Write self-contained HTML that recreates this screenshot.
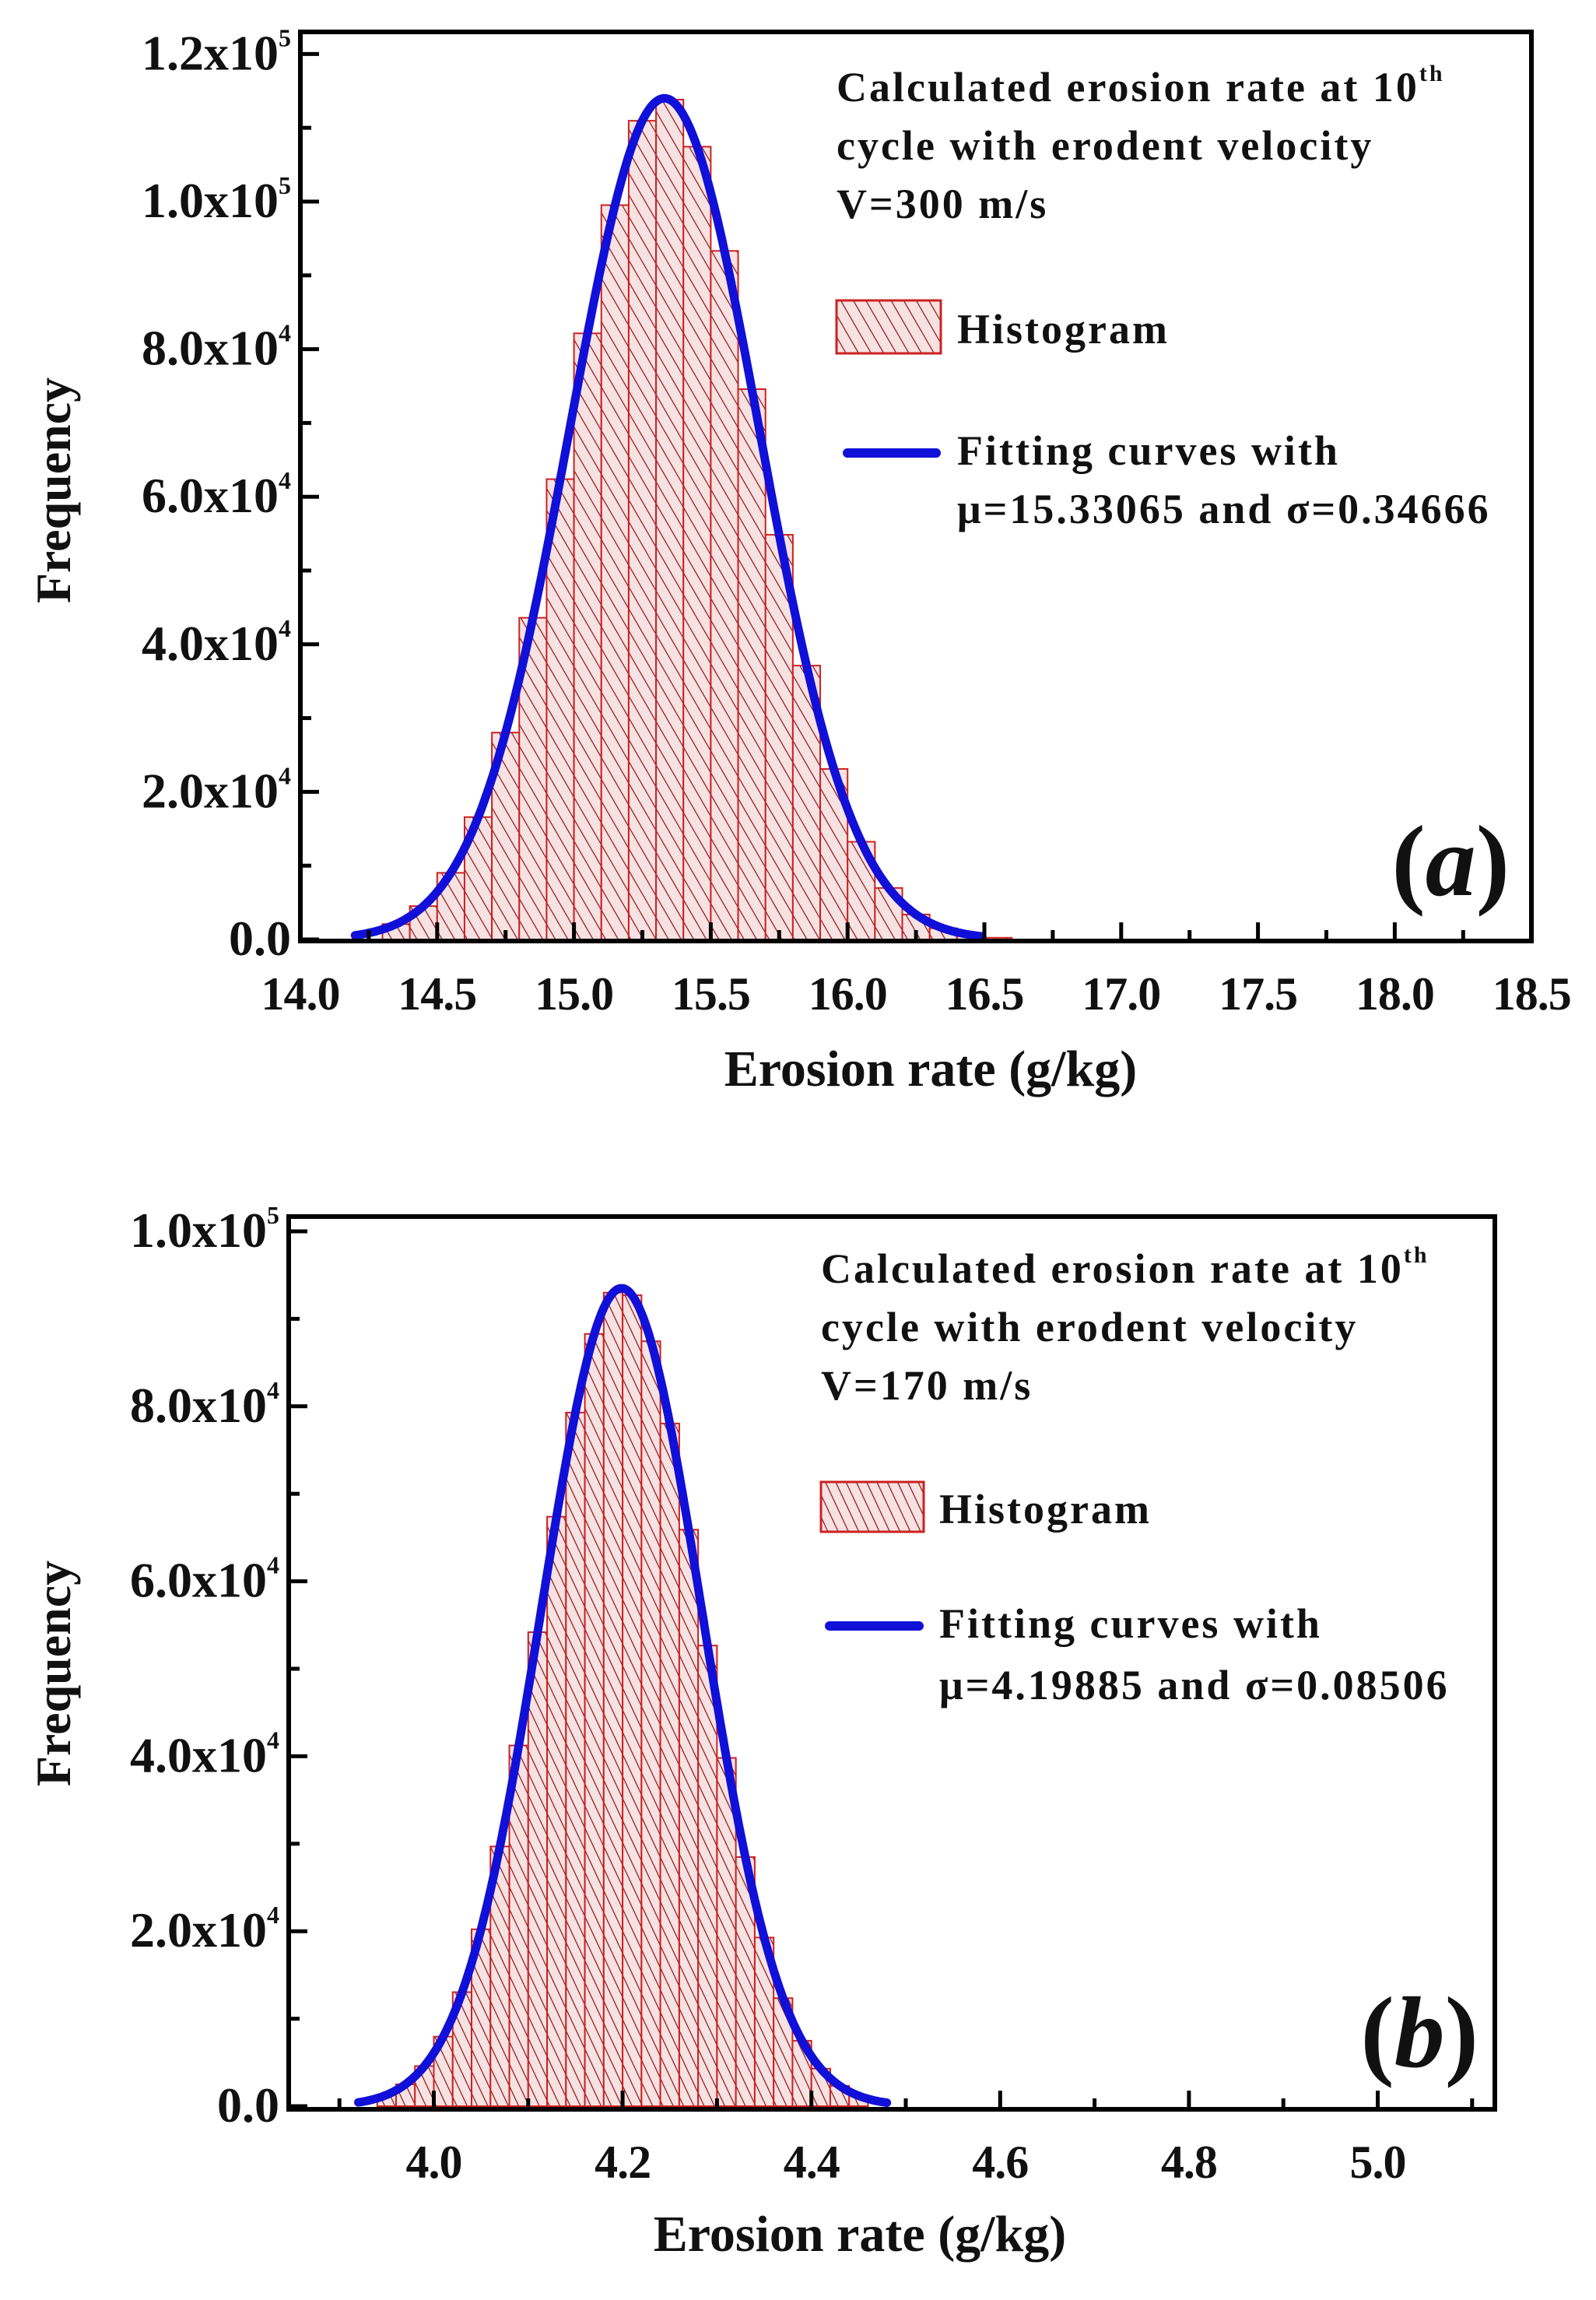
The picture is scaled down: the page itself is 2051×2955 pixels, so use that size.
<!DOCTYPE html>
<html><head><meta charset="utf-8"><style>
html,body{margin:0;padding:0;background:#fff;}
svg{display:block;}
text{font-family:"Liberation Serif",serif;font-weight:bold;fill:#111;}
</style></head><body>
<svg id="s" width="2051" height="2955" xmlns="http://www.w3.org/2000/svg">
<defs>
<pattern id="h1" width="14" height="14" patternUnits="userSpaceOnUse" patternTransform="rotate(-30)">
<rect width="14" height="14" fill="#f6e2e2"/><line x1="0" y1="0" x2="0" y2="14" stroke="#901010" stroke-width="2.4"/></pattern>
<pattern id="h2" width="12" height="12" patternUnits="userSpaceOnUse" patternTransform="rotate(-25)">
<rect width="12" height="12" fill="#f6e2e2"/><line x1="0" y1="0" x2="0" y2="12" stroke="#901010" stroke-width="2.4"/></pattern>
</defs>
<g id="g"></g>
</svg>
<script>
var NS="http://www.w3.org/2000/svg",G=document.getElementById("g");
function el(t,a,txt){var e=document.createElementNS(NS,t);for(var k in a)e.setAttribute(k,a[k]);if(txt!=null)e.textContent=txt;G.appendChild(e);return e;}
function txt(x,y,s,size,anchor,extra){var e=el("text",Object.assign({x:x,y:y,"font-size":size,"text-anchor":anchor||"start"},extra||{}));e.innerHTML=s;return e;}
function plot(P){
 var X=function(v){return P.x0+(v-P.v0)*P.sx;},Y=function(c){return P.y0-c*P.sy;};
 for(var b=P.b0;b<P.b1-1e-9;b+=P.bw){var c=b+P.bw/2;var h=P.peak*Math.exp(-0.5*Math.pow((c-P.mu)/P.sig,2));if(h<200)continue;
  el("rect",{x:X(b),y:Y(h),width:P.bw*P.sx,height:h*P.sy,fill:"url(#"+P.pat+")",stroke:"#c22","stroke-width":2});}
 var d="";for(var v=P.c0;v<=P.c1;v+=(P.c1-P.c0)/300){d+=(d?"L":"M")+X(v).toFixed(1)+","+Y(P.peak*Math.exp(-0.5*Math.pow((v-P.mu)/P.sig,2))).toFixed(1);}
 el("path",{d:d,fill:"none",stroke:"#1010d8","stroke-width":11,"stroke-linecap":"round"});
 el("rect",{x:P.L,y:P.T,width:P.R-P.L,height:P.B-P.T,fill:"none",stroke:"#000","stroke-width":6});
 for(var i=0;i<=P.ymaxN;i++){var c=i*P.ystep/2,y=Y(c);var maj=i%2==0;
  el("line",{x1:P.L,x2:P.L+(maj?24:14),y1:y,y2:y,stroke:"#000","stroke-width":5});
  if(maj){txt(P.L-12,y+20,P.ylab[i/2],64,"end");}}
 for(var v=P.xt0;v<=P.xt1+1e-9;v+=P.xst/2){var x=X(v);var k=Math.round((v-P.xt0)/(P.xst/2));var maj=(k+P.mo)%2==0;
  el("line",{x1:x,x2:x,y1:P.B,y2:P.B-(maj?24:14),stroke:"#000","stroke-width":5});
  if(maj)txt(x,P.B+88,v.toFixed(1),60,"middle",{"letter-spacing":"-1"});}
}
function lab(m,e){return m+"x10<tspan font-size='32' dy='-30'>"+e+"</tspan>";}
plot({L:386,R:1968,T:41,B:1209,x0:386,v0:14.0,sx:351.6,y0:1207,sy:0.00948,mu:15.33065,sig:0.34666,peak:114000,
 b0:14.3,b1:16.7,bw:0.1,c0:14.2,c1:16.5,pat:"h1",ymaxN:12,ystep:20000,
 ylab:["0.0",lab("2.0","4"),lab("4.0","4"),lab("6.0","4"),lab("8.0","4"),lab("1.0","5"),lab("1.2","5")],
 xt0:14.0,xt1:18.5,xst:0.5,mo:0});
plot({L:371,R:1921,T:1563,B:2710,x0:557.5,v0:4.0,sx:1213,y0:2706,sy:0.01124,mu:4.19885,sig:0.08506,peak:93500,
 b0:3.94,b1:4.46,bw:0.02,c0:3.92,c1:4.48,pat:"h2",ymaxN:10,ystep:20000,
 ylab:["0.0",lab("2.0","4"),lab("4.0","4"),lab("6.0","4"),lab("8.0","4"),lab("1.0","5")],
 xt0:3.9,xt1:5.1,xst:0.2,mo:1});
txt(0,0,"Frequency",64,"middle",{transform:"translate(90,630) rotate(-90)"});
txt(0,0,"Frequency",64,"middle",{transform:"translate(90,2150) rotate(-90)"});
txt(1196,1395,"Erosion rate (g/kg)",66,"middle");
txt(1105,2892,"Erosion rate (g/kg)",66,"middle");
var ls={"letter-spacing":"3"};
txt(1075,130,"Calculated erosion rate at 10<tspan font-size='30' dy='-26'>th</tspan>",54,"start",ls);
txt(1075,205,"cycle with erodent velocity",54,"start",ls);
txt(1075,280,"V=300 m/s",54,"start",ls);
el("rect",{x:1075,y:386,width:134,height:68,fill:"url(#h1)",stroke:"#c22","stroke-width":3});
txt(1230,441,"Histogram",54,"start",ls);
el("line",{x1:1089,x2:1203,y1:582,y2:582,stroke:"#1010d8","stroke-width":12,"stroke-linecap":"round"});
txt(1230,597,"Fitting curves with",54,"start",ls);
txt(1230,672,"μ=15.33065 and σ=0.34666",54,"start",ls);
txt(1940,1150,"(<tspan font-style='italic'>a</tspan>)",130,"end");
txt(1055,1648,"Calculated erosion rate at 10<tspan font-size='30' dy='-26'>th</tspan>",54,"start",ls);
txt(1055,1723,"cycle with erodent velocity",54,"start",ls);
txt(1055,1798,"V=170 m/s",54,"start",ls);
el("rect",{x:1055,y:1904,width:132,height:64,fill:"url(#h2)",stroke:"#c22","stroke-width":3});
txt(1207,1957,"Histogram",54,"start",ls);
el("line",{x1:1066,x2:1181,y1:2089,y2:2089,stroke:"#1010d8","stroke-width":12,"stroke-linecap":"round"});
txt(1207,2104,"Fitting curves with",54,"start",ls);
txt(1207,2183,"μ=4.19885 and σ=0.08506",54,"start",ls);
txt(1900,2655,"(<tspan font-style='italic'>b</tspan>)",130,"end");
</script>
</body></html>
